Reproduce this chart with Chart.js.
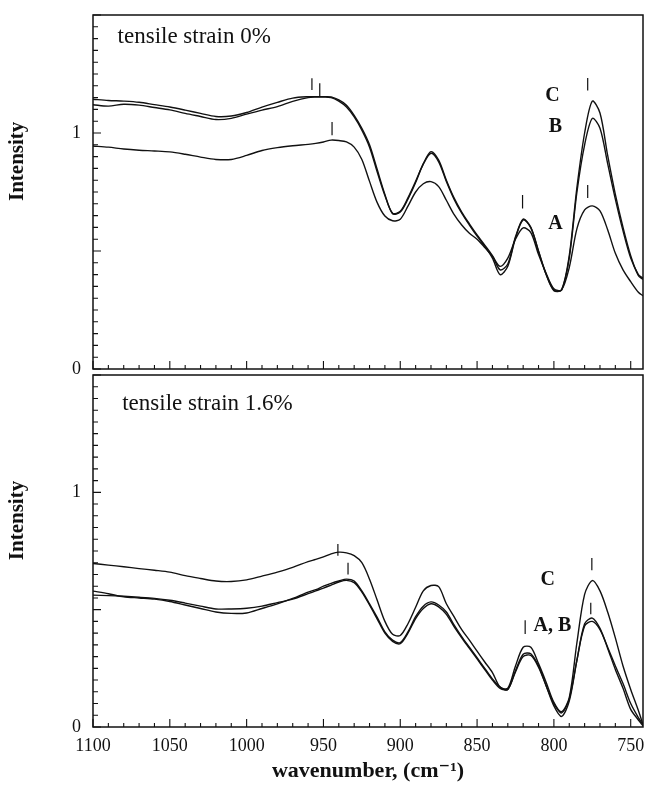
<!DOCTYPE html>
<html>
<head>
<meta charset="utf-8">
<script src="https://cdn.jsdelivr.net/npm/chart.js@4.4.1/dist/chart.umd.min.js"></script>
<style>
  html, body { margin: 0; padding: 0; background: #fff; }
  .box { position: absolute; left: 0; width: 645px; }
</style>
</head>
<body>
<div class="box" style="top:0;height:385px"><canvas id="chartTop"></canvas></div>
<div class="box" style="top:372px;height:415px"><canvas id="chartBottom"></canvas></div>
<script>
// wavenumber grid (cm-1), shared by all curves
const wavenumbers = [1100,1090,1080,1070,1060,1050,1040,1030,1020,1010,1000,990,980,970,960,
  955,950,945,940,935,930,925,920,915,910,905,900,895,890,885,
  880,875,870,865,860,855,850,845,840,835,830,825,820,815,810,
  805,800,795,790,785,780,775,770,765,760,755,750,745,742];

// tensile strain 0%
const top0A = [0.945,0.940,0.932,0.927,0.924,0.920,0.910,0.898,0.888,0.888,0.905,0.926,0.938,0.946,0.952,
  0.956,0.962,0.970,0.968,0.962,0.940,0.888,0.795,0.705,0.648,0.628,0.635,0.690,0.750,0.785,
  0.794,0.773,0.715,0.655,0.610,0.575,0.550,0.515,0.478,0.435,0.470,0.550,0.598,0.578,0.485,
  0.405,0.340,0.335,0.430,0.595,0.674,0.691,0.670,0.590,0.490,0.420,0.370,0.325,0.310];
const top0B = [1.120,1.114,1.122,1.118,1.108,1.098,1.083,1.070,1.057,1.062,1.080,1.097,1.112,1.134,1.150,
  1.152,1.152,1.150,1.135,1.110,1.068,1.012,0.940,0.835,0.735,0.660,0.668,0.725,0.795,0.868,
  0.914,0.878,0.795,0.720,0.660,0.610,0.563,0.520,0.470,0.400,0.435,0.555,0.632,0.598,0.498,
  0.400,0.332,0.335,0.470,0.750,0.950,1.062,1.020,0.870,0.720,0.585,0.470,0.400,0.385];
const top0C = [1.143,1.138,1.135,1.130,1.120,1.110,1.097,1.083,1.070,1.072,1.087,1.110,1.130,1.148,1.154,
  1.154,1.154,1.153,1.140,1.118,1.075,1.020,0.950,0.845,0.740,0.658,0.665,0.720,0.790,0.870,
  0.921,0.885,0.800,0.725,0.665,0.615,0.568,0.525,0.480,0.420,0.445,0.560,0.635,0.600,0.500,
  0.400,0.335,0.335,0.480,0.770,1.000,1.135,1.085,0.905,0.740,0.600,0.480,0.395,0.380];

// tensile strain 1.6%
const bot16A = [0.579,0.568,0.555,0.550,0.545,0.535,0.520,0.505,0.490,0.484,0.486,0.505,0.525,0.548,0.575,
  0.585,0.600,0.612,0.622,0.630,0.622,0.580,0.525,0.467,0.405,0.370,0.360,0.405,0.470,0.515,
  0.533,0.520,0.490,0.435,0.385,0.340,0.295,0.250,0.205,0.170,0.160,0.240,0.310,0.312,0.260,
  0.175,0.090,0.045,0.110,0.285,0.440,0.464,0.420,0.335,0.245,0.165,0.075,0.030,0.005];
const bot16B = [0.562,0.560,0.557,0.553,0.548,0.540,0.528,0.515,0.503,0.503,0.506,0.515,0.530,0.545,0.568,
  0.580,0.592,0.605,0.618,0.625,0.615,0.575,0.520,0.460,0.400,0.365,0.355,0.400,0.462,0.505,
  0.525,0.512,0.480,0.428,0.380,0.335,0.290,0.245,0.200,0.165,0.160,0.235,0.300,0.305,0.255,
  0.175,0.100,0.060,0.120,0.285,0.430,0.450,0.415,0.340,0.260,0.185,0.100,0.040,0.010];
const bot16C = [0.697,0.690,0.683,0.675,0.668,0.660,0.645,0.633,0.622,0.620,0.627,0.643,0.660,0.680,0.705,
  0.714,0.725,0.738,0.745,0.742,0.730,0.700,0.630,0.540,0.450,0.395,0.390,0.440,0.510,0.580,
  0.603,0.598,0.525,0.470,0.415,0.370,0.323,0.277,0.232,0.170,0.165,0.260,0.340,0.340,0.270,
  0.190,0.105,0.065,0.125,0.360,0.565,0.624,0.580,0.490,0.380,0.260,0.160,0.070,0.010];

const xTickLabels = [1100,1050,1000,950,900,850,800,750];
const yTickLabels = [0,1];

// annotations in data units: [text, wavenumber, intensity, align, bold]
const topTexts = [['tensile strain 0%',1084,1.405,'left',false],['C',801,1.157,'center',true],
  ['B',799,1.025,'center',true],['A',799,0.614,'center',true]];
const bottomTexts = [['tensile strain 1.6%',1081,1.378,'left',false],['C',804,0.626,'center',true],
  ['A, B',801,0.43,'center',true]];
// peak markers: [wavenumber, from, to]
const topMarks = [[957.5,1.182,1.232],[952.4,1.154,1.211],[944.4,0.99,1.047],
  [820.4,0.68,0.737],[778,1.18,1.233],[778,0.725,0.78]];
const bottomMarks = [[940.6,0.73,0.78],[934,0.65,0.70],[818.7,0.396,0.455],
  [775.3,0.668,0.72],[776,0.48,0.53]];

const serif = "'Liberation Serif', 'DejaVu Serif', serif";

const decoPlugin = {
  id: 'deco',
  afterDraw(chart, args, opts) {
    const ctx = chart.ctx, a = chart.chartArea;
    const x = chart.scales.x, y = chart.scales.y;
    ctx.save();
    ctx.strokeStyle = '#111';
    ctx.lineWidth = 1.5;
    ctx.strokeRect(a.left, a.top, a.right - a.left, a.bottom - a.top);
    ctx.lineWidth = 1.1;
    ctx.beginPath();
    for (let k = 0; k <= 35; k++) {
      const px = x.getPixelForValue(1100 - k * 10);
      const len = k % 5 === 0 ? 8 : 4;
      ctx.moveTo(px, a.bottom); ctx.lineTo(px, a.bottom - len);
    }
    for (let k = 0; k <= 30; k++) {
      const py = y.getPixelForValue(k * 0.05);
      const len = k % 10 === 0 ? 8 : 5;
      ctx.moveTo(a.left, py); ctx.lineTo(a.left + len, py);
    }
    ctx.stroke();
    ctx.lineWidth = 1.2;
    ctx.beginPath();
    opts.marks.forEach(m => {
      const px = x.getPixelForValue(m[0]);
      ctx.moveTo(px, y.getPixelForValue(m[1])); ctx.lineTo(px, y.getPixelForValue(m[2]));
    });
    ctx.stroke();
    ctx.fillStyle = '#111';
    ctx.textBaseline = 'middle';
    opts.texts.forEach(t => {
      ctx.font = t[4] ? 'bold 20px ' + serif : '23px ' + serif;
      ctx.textAlign = t[3];
      ctx.fillText(t[0], x.getPixelForValue(t[1]), y.getPixelForValue(t[2]));
    });
    ctx.translate(18, y.getPixelForValue(0.88));
    ctx.rotate(-Math.PI / 2);
    ctx.textAlign = 'center';
    ctx.font = 'bold 21px ' + serif;
    ctx.fillText('Intensity', 0, 0);
    ctx.restore();
  }
};

function makeChart(id, series, texts, marks, showX, padding) {
  const datasets = series.map(s => ({
    data: wavenumbers.map((w, i) => ({ x: w, y: s[i] })),
    borderColor: '#111',
    borderWidth: 1.4,
    pointRadius: 0,
    tension: 0.3,
    fill: false
  }));
  return new Chart(document.getElementById(id), {
    type: 'line',
    data: { datasets },
    plugins: [decoPlugin],
    options: {
      responsive: true,
      maintainAspectRatio: false,
      animation: false,
      layout: { padding },
      plugins: {
        legend: { display: false },
        tooltip: { enabled: false },
        deco: { texts, marks }
      },
      scales: {
        x: {
          type: 'linear',
          reverse: true,
          min: 742,
          max: 1100,
          display: showX,
          afterBuildTicks: s => { s.ticks = xTickLabels.map(v => ({ value: v })); },
          afterFit: s => {
            if (showX) s.height = 60;
            s.paddingLeft = 0; s.paddingRight = 0;
          },
          grid: { display: false, drawTicks: false },
          border: { display: false },
          ticks: {
            color: '#111', padding: 8, maxRotation: 0,
            font: { family: serif, size: 18 },
            callback: v => String(v)
          },
          title: {
            display: true,
            text: 'wavenumber, (cm\u207B\u00B9)',
            color: '#111',
            padding: { top: 0, bottom: 2 },
            font: { family: serif, size: 22, weight: 'bold' }
          }
        },
        y: {
          min: 0,
          max: 1.5,
          afterBuildTicks: s => { s.ticks = yTickLabels.map(v => ({ value: v })); },
          afterFit: s => { s.width = 93; s.paddingTop = 0; s.paddingBottom = 0; },
          grid: { display: false, drawTicks: false },
          border: { display: false },
          ticks: { color: '#111', padding: 12, font: { family: serif, size: 18 } }
        }
      }
    }
  });
}

makeChart('chartTop', [top0A, top0B, top0C], topTexts, topMarks, false,
  { top: 15, bottom: 16, right: 2, left: 0 });
makeChart('chartBottom', [bot16A, bot16B, bot16C], bottomTexts, bottomMarks, true,
  { top: 3, bottom: 0, right: 2, left: 0 });
</script>
</body>
</html>
